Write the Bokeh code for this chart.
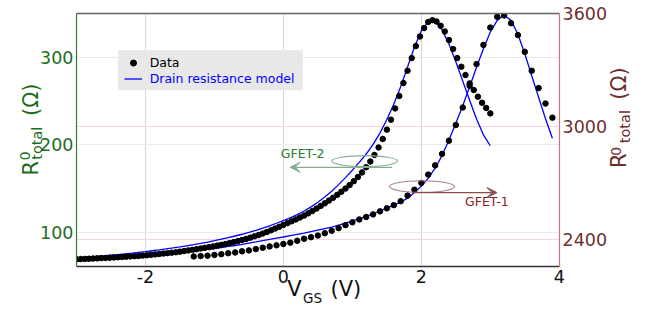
from math import pi
from bokeh.plotting import figure
from bokeh.models import (Range1d, LinearAxis, FixedTicker, Grid, Label, Arrow, VeeHead,
                          Legend, LegendItem, BoxAnnotation)
from bokeh.embed import file_html
from bokeh.resources import INLINE

FONT = "DejaVu Sans"
GREEN = "#1c6e1c"
MAROON = "#6e2e2e"

# ---------------- data ----------------
# GFET-2 (left axis, Ohm)
v_gfet2 = [-3.00, -2.94, -2.88, -2.82, -2.76, -2.70, -2.64, -2.58, -2.52, -2.46,
           -2.40, -2.34, -2.28, -2.22, -2.16, -2.10, -2.04, -1.98, -1.92, -1.86,
           -1.80, -1.74, -1.68, -1.62, -1.56, -1.50, -1.44, -1.38, -1.32, -1.26,
           -1.20, -1.14, -1.08, -1.02, -0.96, -0.90, -0.84, -0.78, -0.72, -0.66,
           -0.60, -0.54, -0.48, -0.42, -0.36, -0.30, -0.24, -0.18, -0.12, -0.06,
           0.00, 0.06, 0.12, 0.18, 0.24, 0.30, 0.36, 0.42, 0.48, 0.54,
           0.60, 0.66, 0.72, 0.78, 0.84, 0.90, 0.96, 1.02, 1.08, 1.14,
           1.20, 1.26, 1.32, 1.38, 1.44, 1.50, 1.56, 1.62, 1.68, 1.74,
           1.80, 1.86, 1.92, 1.98, 2.04, 2.10, 2.16, 2.22, 2.28, 2.34,
           2.40, 2.46, 2.52, 2.58, 2.64, 2.70, 2.76, 2.82, 2.88, 2.94, 3.00]
r_gfet2 = [69.1, 69.3, 69.5, 69.7, 69.9, 70.1, 70.4, 70.6, 70.9, 71.1,
           71.4, 71.7, 72.0, 72.3, 72.6, 72.9, 73.3, 73.7, 74.2, 74.6,
           75.1, 75.6, 76.1, 76.6, 77.1, 77.8, 78.5, 79.2, 79.9, 80.6,
           81.4, 82.2, 82.9, 83.8, 84.7, 85.6, 86.5, 87.6, 88.7, 89.9,
           91.1, 92.4, 93.8, 95.3, 96.8, 98.5, 100.3, 102.2, 104.2, 106.2,
           108.4, 110.5, 112.6, 114.7, 116.9, 119.1, 121.6, 124.3, 127.1, 130.1,
           133.1, 136.2, 139.4, 142.8, 146.3, 150.0, 154.0, 158.4, 163.2, 168.5,
           174.4, 181.0, 188.5, 197.0, 206.7, 217.4, 228.8, 241.7, 255.9, 270.7,
           284.8, 299.3, 313.0, 324.0, 333.6, 340.6, 342.7, 341.1, 336.2, 329.7,
           319.9, 309.6, 299.3, 289.4, 279.9, 270.3, 262.7, 255.1, 248.2, 242.2, 236.0]

v_model2 = [-3.0, -2.9, -2.8, -2.7, -2.6, -2.5, -2.4, -2.3, -2.2, -2.1,
            -2.0, -1.9, -1.8, -1.7, -1.6, -1.5, -1.4, -1.3, -1.2, -1.1,
            -1.0, -0.9, -0.8, -0.7, -0.6, -0.5, -0.4, -0.3, -0.2, -0.1,
            0.0, 0.1, 0.2, 0.3, 0.4, 0.5, 0.6, 0.7, 0.8, 0.9,
            1.0, 1.1, 1.2, 1.3, 1.4, 1.5, 1.6, 1.7, 1.8, 1.9,
            2.0, 2.1, 2.2, 2.3, 2.4, 2.5, 2.6, 2.7, 2.8, 2.9, 3.0]
r_model2 = [70.7, 71.2, 71.8, 72.4, 73.0, 73.7, 74.4, 75.2, 76.0, 76.9,
            77.8, 78.8, 79.8, 80.9, 82.0, 83.2, 84.5, 85.8, 87.2, 88.7,
            90.3, 92.0, 93.8, 95.7, 97.7, 99.9, 102.2, 104.7, 107.4, 110.3,
            113.3, 116.5, 120.2, 124.3, 129.0, 134.3, 140.3, 147.0, 154.5, 162.5,
            171.0, 180.0, 189.5, 200.5, 213.5, 229.0, 246.5, 266.5, 289.0, 312.0,
            330.5, 341.0, 341.5, 331.5, 315.5, 295.0, 273.0, 251.0, 229.5, 211.5, 199.0]

# GFET-1 (right axis, Ohm)
v_gfet1 = [-1.3, -1.2, -1.1, -1.0, -0.9, -0.8, -0.7, -0.6, -0.5, -0.4,
           -0.3, -0.2, -0.1, 0.0, 0.1, 0.2, 0.3, 0.4, 0.5, 0.6,
           0.7, 0.8, 0.9, 1.0, 1.1, 1.2, 1.3, 1.4, 1.5, 1.6,
           1.7, 1.8, 1.9, 2.0, 2.1, 2.2, 2.3, 2.4, 2.5, 2.6,
           2.7, 2.8, 2.9, 3.0, 3.1, 3.2, 3.3, 3.4, 3.5, 3.6,
           3.7, 3.8, 3.9]
r_gfet1 = [2312, 2314, 2316, 2320, 2324, 2329, 2333, 2339, 2344, 2351,
           2358, 2365, 2371, 2378, 2385, 2395, 2406, 2414, 2423, 2435,
           2448, 2462, 2478, 2493, 2508, 2521, 2535, 2551, 2567, 2584,
           2605, 2635, 2666, 2702, 2746, 2795, 2856, 2926, 3009, 3102,
           3217, 3332, 3434, 3526, 3583, 3590, 3549, 3486, 3397, 3297,
           3205, 3123, 3048]
v_model1 = list(v_gfet1)
r_model1 = [2341, 2345, 2349, 2354, 2359, 2365, 2370, 2376, 2383, 2389,
            2396, 2403, 2409, 2415, 2422, 2429, 2436, 2444, 2451, 2460,
            2468, 2478, 2489, 2500, 2511, 2524, 2538, 2553, 2568, 2584,
            2600, 2621, 2651, 2685, 2727, 2780, 2847, 2929, 3019, 3111,
            3212, 3315, 3413, 3503, 3564, 3592, 3564, 3490, 3387, 3270,
            3156, 3042, 2939]

x_ticks = [-2, 0, 2, 4]
x_tick_labels = ["-2", "0", "2", "4"]
left_ticks = [100, 200, 300]
right_ticks = [2400, 3000, 3600]

# ---------------- figure ----------------
p = figure(width=660, height=310,
           x_range=Range1d(-3.0, 4.003), y_range=Range1d(60.8, 350.3),
           output_backend="svg", toolbar_location=None,
           min_border_left=76, min_border_right=101, min_border_top=13, min_border_bottom=44)
p.extra_y_ranges = {"right": Range1d(2258.6, 3600.5)}
p.outline_line_color = None
p.background_fill_color = "white"
p.border_fill_color = "white"


def style_axis(ax, size, color, standoff, line_color=None, line_width=1.0):
    ax.axis_line_color = line_color
    ax.axis_line_width = line_width
    ax.major_tick_line_color = None
    ax.minor_tick_line_color = None
    ax.major_tick_out = 0
    ax.major_tick_in = 0
    ax.minor_tick_out = 0
    ax.minor_tick_in = 0
    ax.major_label_text_font = FONT
    ax.major_label_text_font_size = size
    ax.major_label_text_color = color
    ax.major_label_standoff = standoff


# bottom axis
xa = p.xaxis[0]
xa.ticker = FixedTicker(ticks=x_ticks)
xa.major_label_overrides = dict(zip(x_ticks, x_tick_labels))
style_axis(xa, "17.5px", "#111111", 3, "#333333", 1.4)

# left axis
ya = p.yaxis[0]
ya.ticker = FixedTicker(ticks=left_ticks)
style_axis(ya, "17.5px", GREEN, 3, "#2f7f2f", 1.2)

# right axis
ra = LinearAxis(y_range_name="right", ticker=FixedTicker(ticks=right_ticks))
style_axis(ra, "17.5px", MAROON, 3, "#d4707f", 1.2)
p.add_layout(ra, "right")

# top border line
ta = LinearAxis(ticker=FixedTicker(ticks=[]))
style_axis(ta, "10px", "#666666", 0, "#666666", 1.6)
p.add_layout(ta, "above")

# ---------------- axis titles made of text-only axes ----------------
def text_axis(side, labels, size, color, standoff, orientation=None):
    ax = LinearAxis(ticker=FixedTicker(ticks=list(labels.keys())),
                    major_label_overrides=dict(labels))
    style_axis(ax, size, color, standoff)
    if orientation is not None:
        ax.major_label_orientation = orientation
    p.add_layout(ax, side)

# x title: V_GS (V)   (tick positions in volts)
text_axis("below", {0.158: "V", 0.905: "(V)"}, "21px", "#111111", -9)
text_axis("below", {0.423: "GS"}, "13.5px", "#111111", -14)

# left title: R^0_total (Ω)   (tick positions in left-axis ohms)
text_axis("left", {201.9: "total"}, "14.5px", GREEN, -8, "vertical")
text_axis("left", {173.4: "R", 251.7: "(Ω)"}, "21px", GREEN, -17, "vertical")
text_axis("left", {187.6: "0"}, "14px", GREEN, -14, "vertical")

# right title, reading upwards
text_axis("right", {187.6: "0"}, "14px", MAROON, 6, pi / 2)
text_axis("right", {173.4: "R", 251.7: "(Ω)"}, "21px", MAROON, -10, pi / 2)
text_axis("right", {201.9: "total"}, "14.5px", MAROON, -21, pi / 2)

# grids
p.xgrid[0].ticker = FixedTicker(ticks=x_ticks)
p.xgrid[0].grid_line_color = "#d6d6d6"
p.ygrid[0].ticker = FixedTicker(ticks=left_ticks)
p.ygrid[0].grid_line_color = "#ebebeb"
rgrid = Grid(dimension=1, ticker=FixedTicker(ticks=right_ticks), y_range_name="right",
             grid_line_color="#f7d5dc")
p.add_layout(rgrid)

# ---------------- data renderers ----------------
m2 = p.line(v_model2, r_model2, line_color="blue", line_width=1.3)
m1 = p.line(v_model1, r_model1, line_color="blue", line_width=1.3, y_range_name="right")
d2 = p.scatter(v_gfet2, r_gfet2, size=5.5, fill_color="black", line_color="black")
d1 = p.scatter(v_gfet1, r_gfet1, size=5.5, fill_color="black", line_color="black",
               y_range_name="right")

# ---------------- legend ----------------
p.add_layout(BoxAnnotation(left=-2.396, right=0.281, bottom=262.7, top=308.5,
                           fill_color="#e8e8e8", fill_alpha=1.0, line_color=None))
common = dict(label_text_font=FONT, label_text_font_size="12.5px",
              glyph_width=18, glyph_height=15, label_height=15, label_standoff=8,
              padding=0, margin=0, spacing=0, background_fill_alpha=0,
              border_line_color=None)
leg1 = Legend(items=[LegendItem(label="Data", renderers=[d2])], location=(47.7, 195.8),
              label_text_color="black", **common)
leg2 = Legend(items=[LegendItem(label="Drain resistance model", renderers=[m2])],
              location=(47.7, 180.5), label_text_color="blue", **common)
p.add_layout(leg1)
p.add_layout(leg2)

# ---------------- GFET annotations ----------------
c2 = "#86ad91"
c1 = "#8b4d4d"
p.ellipse(x=[1.177], y=[181.4], width=65.6, height=11, width_units="screen",
          height_units="screen", fill_color=None, line_color=c2, line_width=1.1)
p.ellipse(x=[2.010], y=[152.2], width=65, height=11.6, width_units="screen",
          height_units="screen", fill_color=None, line_color="#a88080", line_width=1.1)
p.add_layout(Arrow(end=VeeHead(size=10, fill_color=c2, line_color=c2),
                   x_start=1.575, y_start=174.3, x_end=0.097, y_end=174.3,
                   line_color=c2, line_width=1.3))
p.add_layout(Arrow(end=VeeHead(size=10, fill_color=c1, line_color=c1),
                   x_start=1.866, y_start=145.4, x_end=3.097, y_end=145.4,
                   line_color=c1, line_width=1.3))
p.add_layout(Label(x=-0.038, y=181.9, text="GFET-2", text_font=FONT,
                   text_font_size="12.5px", text_color="#2a7a2a"))
p.add_layout(Label(x=2.633, y=126.7, text="GFET-1", text_font=FONT,
                   text_font_size="12.5px", text_color="#8b2020"))

open("out.html", "w").write(file_html(p, INLINE))
